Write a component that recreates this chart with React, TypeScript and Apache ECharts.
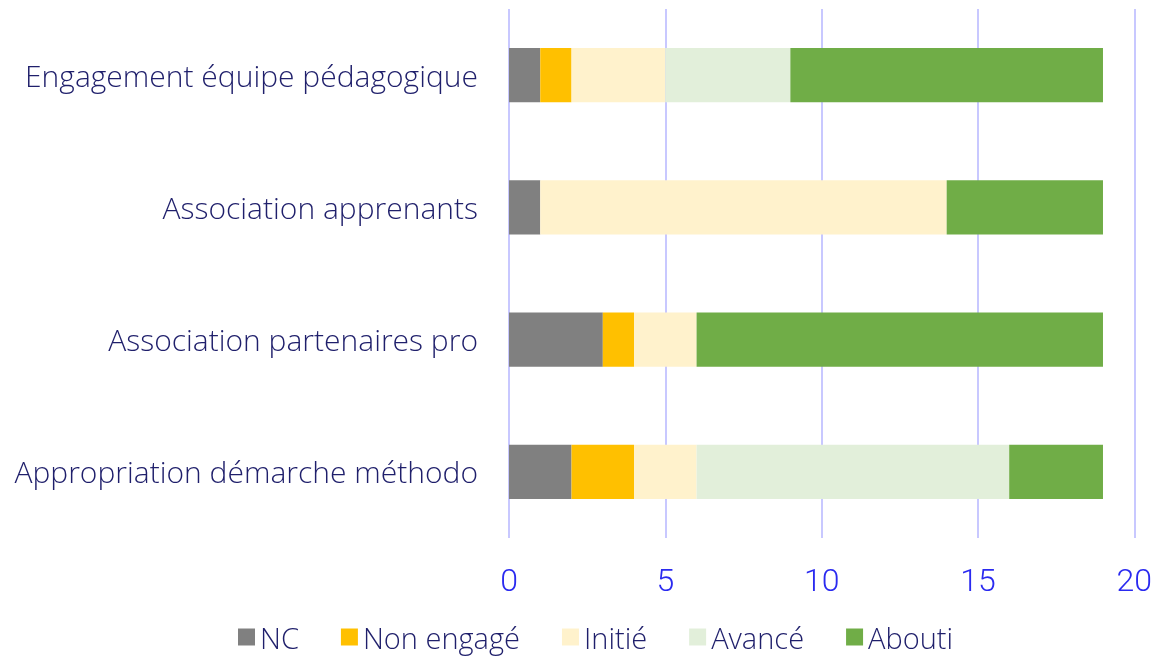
import React, { useEffect, useRef } from "react";
import * as echarts from "echarts";

const categories = [
  "Appropriation démarche méthodo",
  "Association partenaires pro",
  "Association apprenants",
  "Engagement équipe pédagogique",
];
const seriesNames = ["NC", "Non engagé", "Initié", "Avancé", "Abouti"];
const nc = [2, 3, 1, 1];
const nonEngage = [2, 1, 0, 1];
const initie = [2, 2, 13, 3];
const avance = [10, 0, 0, 4];
const abouti = [3, 13, 5, 10];
const colors = ["#808080", "#FFC000", "#FFF2CC", "#E2EFDA", "#70AD47"];

export default function App() {
  const ref = useRef<HTMLDivElement>(null);
  useEffect(() => {
    const chart = echarts.init(ref.current!, undefined, { renderer: "svg" });
    const values = [nc, nonEngage, initie, avance, abouti];
    const font = "Open Sans";
    chart.setOption({
      animation: false,
      textStyle: { fontFamily: font },
      grid: { left: 509, right: 18, top: 9, bottom: 120, containLabel: false },
      legend: {
        top: 621,
        padding: 0,
        left: 238,
        itemWidth: 17,
        itemHeight: 17,
        itemGap: 42,
        icon: "rect",
        textStyle: { fontSize: 29, lineHeight: 32, color: "#1F1F6B", fontFamily: font, fontWeight: 300 },
        data: seriesNames,
      },
      xAxis: {
        type: "value",
        min: 0,
        max: 20,
        interval: 5,
        axisLine: { show: false },
        axisTick: { show: false },
        splitLine: { show: true, lineStyle: { color: "#C8C8FF", width: 2 } },
        axisLabel: { fontSize: 32, color: "#2A2AF0", margin: 26, fontFamily: "Roboto", fontWeight: 300 },
      },
      yAxis: {
        type: "category",
        data: categories,
        axisLine: { show: false },
        axisTick: { show: false },
        axisLabel: { fontSize: 30, color: "#1F1F6B", margin: 31, fontFamily: font, fontWeight: 300 },
      },
      series: seriesNames.map((name, i) => ({
        name,
        type: "bar",
        stack: "total",
        barWidth: "41%",
        data: values[i],
        itemStyle: { color: colors[i] },
      })),
    });
    return () => chart.dispose();
  }, []);
  return <div ref={ref} style={{ position: "fixed", left: 0, top: 0, width: 1155, height: 658 }} />;
}
